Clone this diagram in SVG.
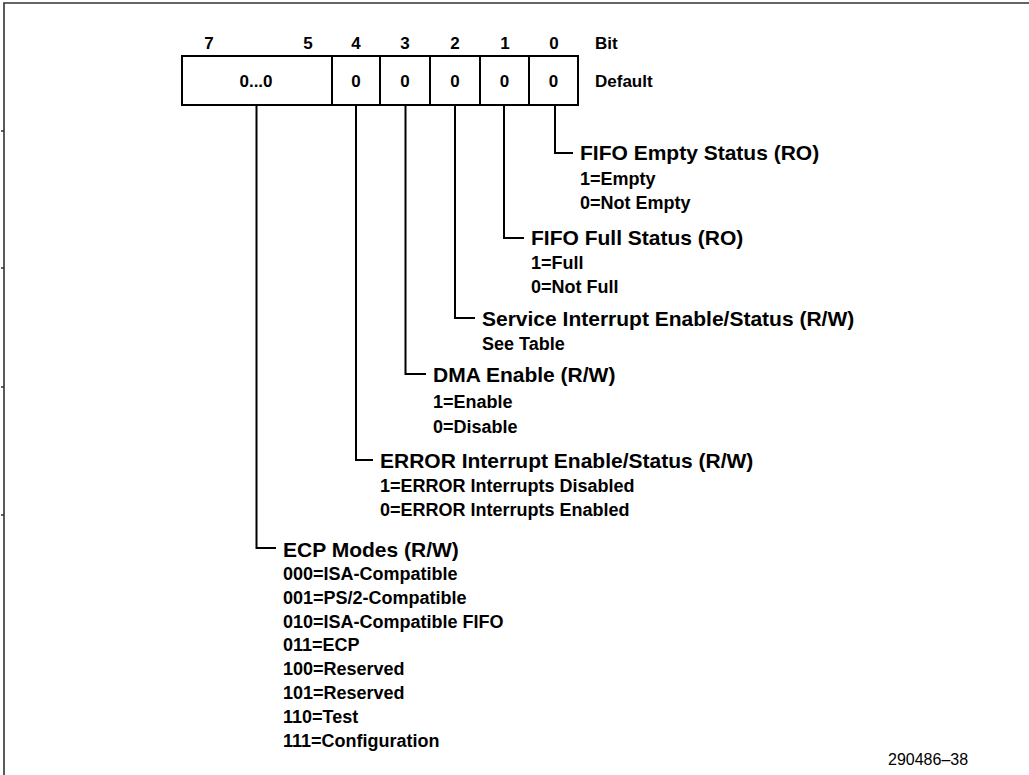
<svg xmlns="http://www.w3.org/2000/svg" width="1029" height="775" viewBox="0 0 1029 775">
<style>
  .frame{stroke:#333;stroke-width:1.6;fill:none}
  .box{stroke:#000;stroke-width:2;fill:#fff}
  .ln{stroke:#000;stroke-width:2;fill:none}
  .hd{font-family:"Liberation Sans",Arial,sans-serif;font-weight:bold;font-size:17px;fill:#000}
  .t{font-family:"Liberation Sans",Arial,sans-serif;font-weight:bold;font-size:21px;fill:#000}
  .s{font-family:"Liberation Sans",Arial,sans-serif;font-weight:bold;font-size:18px;fill:#000}
  .f{font-family:"Liberation Sans",Arial,sans-serif;font-size:16px;fill:#000}
  .c{text-anchor:middle}
</style>
<rect width="1029" height="775" fill="#fff"/>
<g id="frame">
  <path class="frame" d="M4,775 V3 H1029"/>
  <path class="frame" d="M1,131 H4 M1,268 H4 M1,387 H4 M1,515 H4"/>
</g>
<g id="register">
  <rect class="box" x="182" y="56" width="396" height="49"/>
  <path class="ln" d="M332,56 V105 M380,56 V105 M430,56 V105 M480,56 V105 M529,56 V105"/>
  <text class="hd c" x="209" y="49">7</text>
  <text class="hd c" x="308" y="49">5</text>
  <text class="hd c" x="356" y="49">4</text>
  <text class="hd c" x="405" y="49">3</text>
  <text class="hd c" x="455" y="49">2</text>
  <text class="hd c" x="505" y="49">1</text>
  <text class="hd c" x="554" y="49">0</text>
  <text class="hd" x="595" y="49">Bit</text>
  <text class="hd c" x="256" y="87">0...0</text>
  <text class="hd c" x="356" y="87">0</text>
  <text class="hd c" x="405" y="87">0</text>
  <text class="hd c" x="455" y="87">0</text>
  <text class="hd c" x="504.5" y="87">0</text>
  <text class="hd c" x="553.5" y="87">0</text>
  <text class="hd" x="595" y="87">Default</text>
</g>
<g id="connectors">
  <path class="ln" d="M555,105 V153 H573"/>
  <path class="ln" d="M504,105 V238 H524"/>
  <path class="ln" d="M455,105 V318 H475"/>
  <path class="ln" d="M405.5,105 V374 H426"/>
  <path class="ln" d="M356,105 V460 H373"/>
  <path class="ln" d="M256.5,105 V548 H276"/>
</g>
<g id="bit0">
  <text class="t" x="580" y="160">FIFO Empty Status (RO)</text>
  <text class="s" x="580" y="185">1=Empty</text>
  <text class="s" x="580" y="209">0=Not Empty</text>
</g>
<g id="bit1">
  <text class="t" x="531" y="245">FIFO Full Status (RO)</text>
  <text class="s" x="531" y="268.5">1=Full</text>
  <text class="s" x="531" y="292.5">0=Not Full</text>
</g>
<g id="bit2">
  <text class="t" x="482" y="326">Service Interrupt Enable/Status (R/W)</text>
  <text class="s" x="482" y="350">See Table</text>
</g>
<g id="bit3">
  <text class="t" x="433" y="381.5">DMA Enable (R/W)</text>
  <text class="s" x="433" y="408">1=Enable</text>
  <text class="s" x="433" y="432.5">0=Disable</text>
</g>
<g id="bit4">
  <text class="t" x="380" y="468">ERROR Interrupt Enable/Status (R/W)</text>
  <text class="s" x="380" y="492">1=ERROR Interrupts Disabled</text>
  <text class="s" x="380" y="516">0=ERROR Interrupts Enabled</text>
</g>
<g id="bits7-5">
  <text class="t" x="283" y="556.5">ECP Modes (R/W)</text>
  <text class="s" x="283" y="580">000=ISA-Compatible</text>
  <text class="s" x="283" y="603.8">001=PS/2-Compatible</text>
  <text class="s" x="283" y="627.6">010=ISA-Compatible FIFO</text>
  <text class="s" x="283" y="651.4">011=ECP</text>
  <text class="s" x="283" y="675.2">100=Reserved</text>
  <text class="s" x="283" y="699">101=Reserved</text>
  <text class="s" x="283" y="722.8">110=Test</text>
  <text class="s" x="283" y="746.6">111=Configuration</text>
</g>
<g id="footer">
  <text class="f" x="888" y="765">290486–38</text>
</g>
</svg>
